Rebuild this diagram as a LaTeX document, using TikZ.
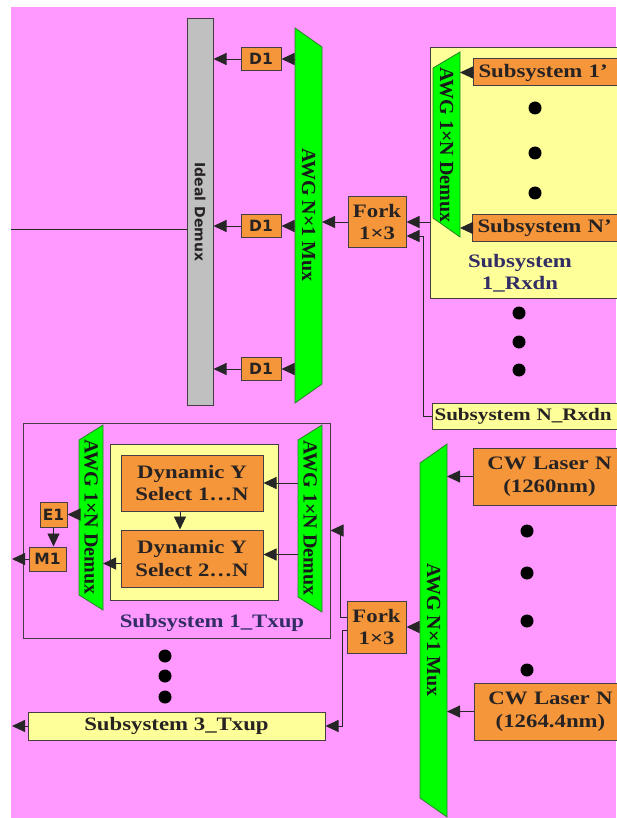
\documentclass[tikz,border=0pt]{standalone}
\usepackage{fontspec}
\setmainfont{Liberation Serif}[FakeStretch=1.2]
\newfontfamily\awgfont{Liberation Serif}
\newfontfamily\lblfont{DejaVu Sans}
\usetikzlibrary{positioning, arrows.meta}

\definecolor{bgpink}{RGB}{255,153,255}
\definecolor{boxorange}{RGB}{246,150,58}
\definecolor{boxyellow}{RGB}{255,255,153}
\definecolor{awggreen}{RGB}{0,255,0}
\definecolor{awgedge}{RGB}{40,130,40}
\definecolor{bargray}{RGB}{192,192,192}
\definecolor{edgegray}{RGB}{70,60,70}
\definecolor{txtdark}{RGB}{40,35,35}
\definecolor{txtnavy}{RGB}{50,45,100}

\begin{document}
\begin{tikzpicture}[x=1pt, y=-1pt,
  font=\fontsize{19}{22.5}\selectfont\bfseries,
  box/.style={draw=edgegray, line width=1pt, inner sep=0pt, align=center, text=txtdark},
  obox/.style={box, fill=boxorange},
  ybox/.style={box, fill=boxyellow},
  tag/.style={obox, font=\lblfont\fontsize{15.5}{17}\selectfont\bfseries},
  awg/.style={draw=awgedge, line width=0.8pt, fill=awggreen},
  awgtext/.style={rotate=-90, font=\awgfont\fontsize{20}{22}\selectfont\bfseries, text=black!90},
  dot/.style={circle, fill=black, inner sep=0pt, minimum size=13pt},
  arrow/.style={-{Triangle[length=13pt, width=12pt]}, line width=0.9pt, draw=black!85},
  wire/.style={line width=0.9pt, draw=black!85},
]
  \useasboundingbox (0,0) rectangle (616,818);
  \fill[bgpink] (11,7) rectangle (616,818);

  % receive side
  \node[box, fill=bargray, minimum width=26pt, minimum height=386pt] (idm) at (200,212) {};
  \node[rotate=-90, font=\lblfont\fontsize{14}{16}\selectfont\bfseries, text=txtdark] (idmtext) at (idm) {Ideal Demux};
  \coordinate (rxin) at (11,229);
  \draw[wire] (rxin) -- (rxin -| idm.west);

  \draw[awg] (295,28) -- (322,47) -- (322,384) -- (295,403) -- cycle;
  \coordinate (mxaW) at (295,215);
  \coordinate (mxaE) at (322,215);
  \node[awgtext] (mxa) at (308.5,215) {AWG N×1 Mux};

  \foreach \y [count=\i] in {59,226,369} {
    \node[tag, minimum width=40pt, minimum height=23pt] (d\i) at (261,\y) {D1};
    \draw[arrow] (mxaW |- d\i) -- (d\i.east);
    \draw[arrow] (d\i.west) -- (d\i.west -| idm.east);
  }

  \node[obox, minimum width=58pt, minimum height=50pt] (fka) at (377,222) {Fork\\1×3};
  \draw[arrow] (fka.west) -- (fka.west -| mxaE);

  \node[ybox, minimum width=200pt, minimum height=251pt, anchor=north west] (rxa) at (430,47) {};
  \draw[awg] (433,68) -- (460,52) -- (460,237) -- (433,218) -- cycle;
  \coordinate (dmaE) at (460,145);
  \node[awgtext] (dma) at (446.5,145) {AWG 1×N Demux};
  \node[obox, anchor=west, text width=145pt, align=left, inner xsep=5pt, minimum height=27pt] (s1p) at (473,72.5) {Subsystem 1’};
  \node[obox, anchor=west, text width=145pt, align=left, inner xsep=5pt, minimum height=26pt] (snp) at (472,228) {Subsystem N’};
  \draw[arrow] (s1p.west) -- (s1p.west -| dmaE);
  \draw[arrow] (snp.west) -- (snp.west -| dmaE);
  \foreach \y in {108,153,193} \node[dot] (ra\y) at (535,\y) {};
  \node[text=txtnavy, align=center] (rxalbl) at (520,273) {Subsystem\\1\_Rxdn};
  \draw[arrow] (rxa.west |- fka.east) -- (fka.east);

  \foreach \y in {313,342,370} \node[dot] (rn\y) at (519,\y) {};
  \node[ybox, anchor=west, text width=190pt, align=left, inner xsep=2pt, minimum height=26pt,
    font=\fontsize{17.6}{20}\selectfont\bfseries] (rxn) at (432,416) {Subsystem N\_Rxdn};
  \draw[arrow] (rxn.west) -- ++(-9,0) |- ([yshift=-14pt]fka.east);

  % transmit side
  \node[box, minimum width=307pt, minimum height=215pt] (txo) at (176.5,530.5) {};
  \node[ybox, minimum width=168pt, minimum height=156pt] (txi) at (194,522) {};
  \node[obox, minimum width=142pt, minimum height=56pt] (dy1) at (192,483) {Dynamic Y\\Select 1…N};
  \node[obox, minimum width=142pt, minimum height=57pt, below=18pt of dy1] (dy2) {Dynamic Y\\Select 2…N};

  \draw[awg] (298,440) -- (322,425) -- (322,612) -- (298,597) -- cycle;
  \coordinate (dmcW) at (298,518);
  \node[awgtext] (dmc) at (310,518) {AWG 1×N Demux};
  \draw[awg] (79,440) -- (103,425) -- (103,610) -- (79,595) -- cycle;
  \coordinate (dmbW) at (79,517);
  \coordinate (dmbE) at (103,517);
  \node[awgtext] (dmb) at (91,517) {AWG 1×N Demux};

  \draw[arrow] (dmcW |- dy1.east) -- (dy1.east);
  \draw[arrow] ([yshift=4pt]dy2.east -| dmcW) -- ([yshift=4pt]dy2.east);
  \draw[arrow] ([xshift=-12pt]dy1.south) -- ([xshift=-12pt]dy2.north);
  \draw[arrow] ([yshift=-5pt]dy2.west) -- ([yshift=-5pt]dy2.west -| dmbE);

  \node[tag, minimum width=27pt, minimum height=25pt] (e1) at (53.5,514.5) {E1};
  \draw[arrow] (dmbW |- e1.east) -- (e1.east);
  \node[tag, minimum width=37pt, minimum height=24pt] (m1) at (47.5,559) {M1};
  \draw[arrow] (e1.south) -- (e1.south |- m1.north);
  \coordinate (txout) at (12,560);
  \draw[arrow] (m1.west) -- (m1.west -| txout);
  \node[text=txtnavy] (txolbl) at (212,623) {Subsystem 1\_Txup};

  \foreach \y in {656,676,697} \node[dot] (tn\y) at (165,\y) {};
  \node[ybox, minimum width=297pt, minimum height=28pt] (s3) at (176.5,726) {Subsystem 3\_Txup};
  \draw[arrow] (s3.west) -- (s3.west -| txout);

  \node[obox, minimum width=59pt, minimum height=52pt] (fkb) at (376.5,627) {Fork\\1×3};
  \draw[arrow] ([yshift=10pt]fkb.west) -- ++(-6,0) |- (txo.east);
  \draw[arrow] ([yshift=-3pt]fkb.west) -- ++(-4,0) |- (s3.east);

  \draw[awg] (420,463) -- (447,444) -- (447,817) -- (420,798) -- cycle;
  \coordinate (mxbW) at (420,630);
  \coordinate (mxbE) at (447,630);
  \node[awgtext] (mxb) at (433.5,630) {AWG N×1 Mux};
  \draw[arrow] (mxbW |- fkb.east) -- (fkb.east);

  \node[obox, anchor=west, text width=142pt, align=center, inner xsep=5pt, minimum height=57pt] (cw1) at (473,476.5) {CW Laser N\\(1260nm)};
  \node[obox, anchor=west, text width=142pt, align=center, inner xsep=5pt, minimum height=57pt] (cw2) at (474,711.5) {CW Laser N\\(1264.4nm)};
  \draw[arrow] (cw1.west) -- (cw1.west -| mxbE);
  \draw[arrow] (cw2.west) -- (cw2.west -| mxbE);
  \foreach \y in {531,573,621,670} \node[dot] (cn\y) at (527,\y) {};
\end{tikzpicture}
\end{document}
